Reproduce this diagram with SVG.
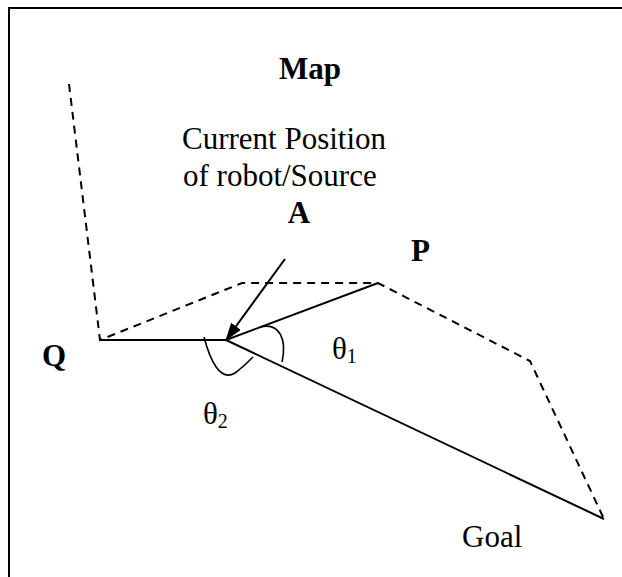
<svg xmlns="http://www.w3.org/2000/svg" width="622" height="577" viewBox="0 0 622 577">
  <defs>
    <marker id="arrowhead" viewBox="0 0 18 12" refX="17" refY="6" markerWidth="18" markerHeight="12" markerUnits="userSpaceOnUse" orient="auto">
      <path d="M0,0 L18,6 L0,12 Z" fill="#000"/>
    </marker>
    <style>
      .frame { fill: none; stroke: #000; stroke-width: 2; }
      .solid { fill: none; stroke: #000; stroke-width: 2; }
      .dash { fill: none; stroke: #000; stroke-width: 2; stroke-dasharray: 8 6; }
      .arc { fill: none; stroke: #000; stroke-width: 1.6; }
      .lbl { font-family: "Liberation Serif", "Times New Roman", serif; font-size: 31px; fill: #000; }
      .bold { font-weight: bold; }
      .sub { font-size: 20px; }
    </style>
  </defs>

  <!-- frame: left and top edges -->
  <path class="frame" d="M9,577 L9,8 L622,8"/>

  <!-- map boundary (dashed) -->
  <g id="boundary">
    <polyline class="dash" points="69,84 100,340 242,283 378,283 530,361 604,519"/>
  </g>

  <!-- connectors -->
  <g id="connectors">
    <line class="solid" x1="100" y1="340" x2="226" y2="340"/>
    <line class="solid" x1="226" y1="340" x2="378" y2="283"/>
    <line class="solid" x1="226" y1="340" x2="604" y2="519"/>
    <line class="solid" x1="285" y1="259" x2="226" y2="340" marker-end="url(#arrowhead)"/>
    <!-- angle arcs -->
    <path class="arc" d="M260,327 C280,322 287,340 282,362"/>
    <path class="arc" d="M204,337 C210,360 220,382 235,373 C242,368 248,362 253,357"/>
  </g>

  <g id="title"><text class="lbl bold" x="310" y="79" text-anchor="middle" font-size="30">Map</text></g>
  <g id="source-label">
    <text class="lbl" x="182" y="149">Current Position</text>
    <text class="lbl" x="183" y="186">of robot/Source</text>
  </g>
  <g id="node-A"><text class="lbl bold" x="299" y="223" text-anchor="middle">A</text></g>
  <g id="node-P"><text class="lbl bold" x="411" y="261">P</text></g>
  <g id="node-Q"><text class="lbl bold" x="42" y="366">Q</text></g>
  <g id="theta1"><text class="lbl" x="332" y="359">θ<tspan class="sub" dy="4">1</tspan></text></g>
  <g id="theta2"><text class="lbl" x="203" y="424">θ<tspan class="sub" dy="4">2</tspan></text></g>
  <g id="goal"><text class="lbl" x="462" y="547">Goal</text></g>
</svg>
